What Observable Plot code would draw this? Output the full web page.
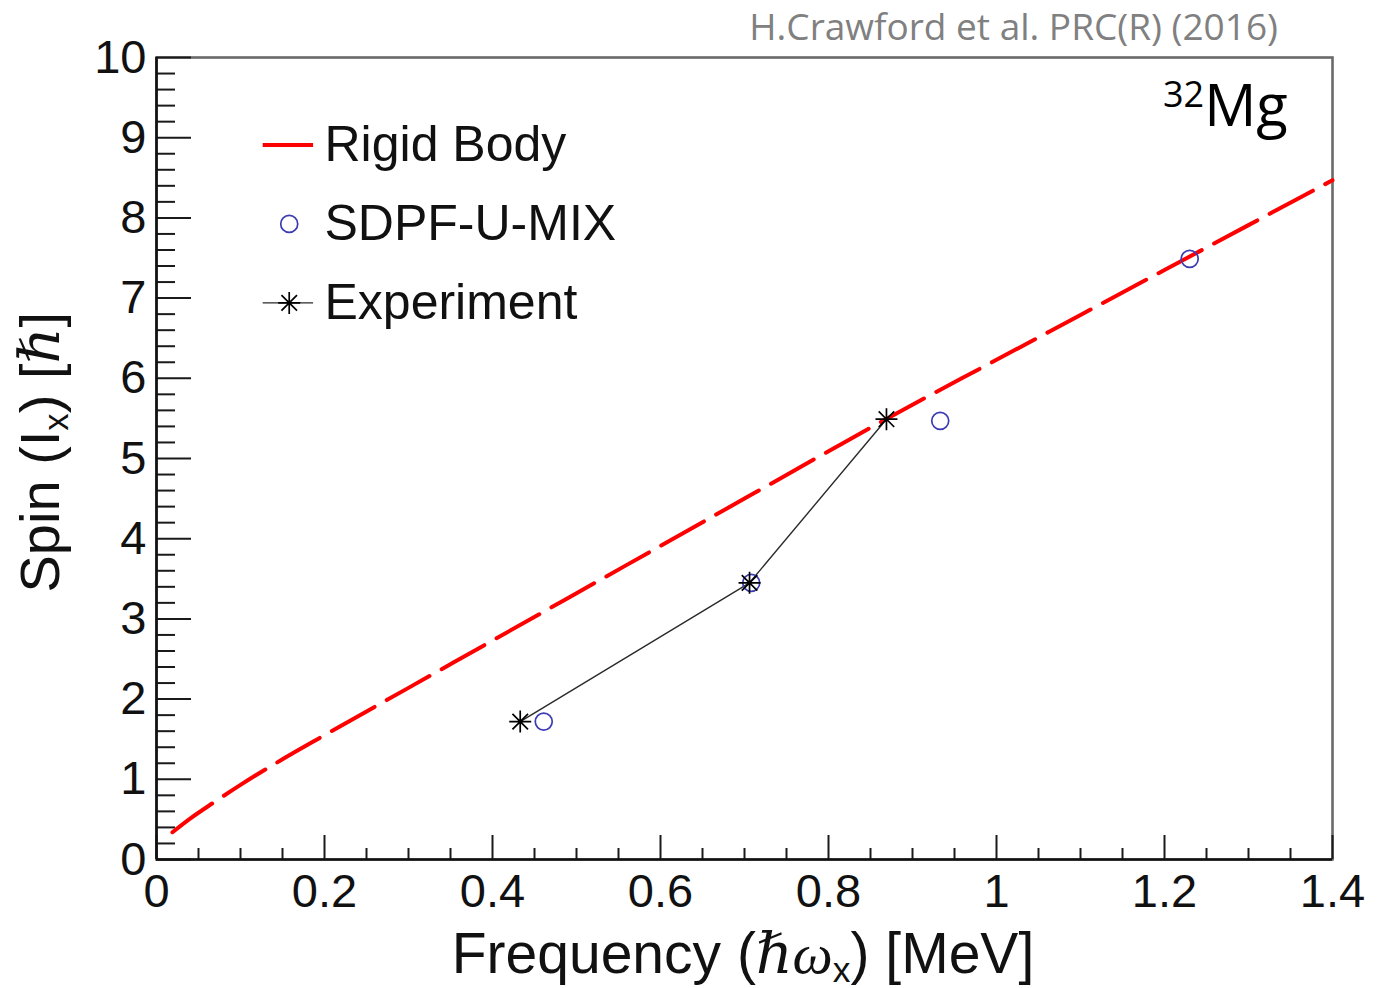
<!DOCTYPE html>
<html><head><meta charset="utf-8">
<script src="https://cdn.jsdelivr.net/npm/d3@7"></script>
<script src="https://cdn.jsdelivr.net/npm/@observablehq/plot@0.6"></script>
<style>
body{margin:0;background:#fff;}
#wrap{position:relative;width:1381px;height:988px;overflow:hidden;}
.ov{position:absolute;white-space:nowrap;line-height:1.15;}
#cite{font-family:'Open Sans',sans-serif;font-size:37px;color:#808080;right:103px;top:0px;line-height:normal;}
#nuc{font-family:'Open Sans',sans-serif;font-size:58px;color:#000;left:1163px;top:71px;}
#nuc .sup{font-size:36px;position:relative;top:-19px;}
#xt{font-family:'Liberation Sans',Arial,sans-serif;font-size:57px;color:#111;left:443px;width:600px;text-align:center;top:921px;}
#yt{font-family:'Liberation Sans',Arial,sans-serif;font-size:56px;color:#111;left:-160px;width:400px;text-align:center;top:420px;transform:rotate(-90deg);transform-origin:center;}
.sb{font-size:0.62em;position:relative;top:0.26em;}
.g{font-family:'Liberation Serif','DejaVu Serif',serif;font-style:italic;}
</style></head><body>
<div id="wrap">
<div id="plot"></div>
<div class="ov" id="cite">H.Crawford et al. PRC(R) (2016)</div>
<div class="ov" id="nuc"><span class="sup">32</span>Mg</div>
<div class="ov" id="xt">Frequency (<span class="g">ℏω</span><span class="sb">x</span>) [MeV]</div>
<div class="ov" id="yt">Spin (I<span class="sb">x</span>) [<span class="g">ℏ</span>]</div>
</div>
<script>
// ---- data ----
const rigidFreq = [0.019,0.04,0.068,0.1,0.15,0.2,0.3,0.4,0.5,0.6,0.7,0.8,0.87,1.0,1.1,1.2,1.3,1.4];
const rigidSpin = [0.34,0.51,0.71,0.93,1.25,1.55,2.14,2.73,3.32,3.91,4.50,5.09,5.50,6.23,6.79,7.35,7.91,8.47];
const sdpfFreq = [0.461,0.708,0.933,1.230];
const sdpfSpin = [1.72,3.45,5.47,7.49];
const expFreq = [0.433,0.706,0.869];
const expSpin = [1.72,3.45,5.49];
const xTicks = [0,0.2,0.4,0.6,0.8,1,1.2,1.4];
const yTicks = [0,1,2,3,4,5,6,7,8,9,10];
const legendLabels = ["Rigid Body","SDPF-U-MIX","Experiment"];

// ---- layout ----
const W=1381,H=988,mL=156,mR=49,mT=57,mB=129;
const fw=W-mL-mR, fh=H-mT-mB;
const rigid = rigidFreq.map((x,i)=>({x, y: rigidSpin[i]}));
const sdpf = sdpfFreq.map((x,i)=>({x, y: sdpfSpin[i]}));
const expt = expFreq.map((x,i)=>({x, y: expSpin[i]}));
const xMinor = d3.range(0,1.4001,0.05).filter(v=>Math.abs(v*5-Math.round(v*5))>1e-6);
const yMinor = d3.range(0,10.001,0.2).filter(v=>Math.abs(v-Math.round(v))>1e-6);
const legend = legendLabels.map((label,i)=>({label, y: 8.91-0.985*i}));
const star8 = {draw(ctx,size){const r=Math.sqrt(size/Math.PI);for(let k=0;k<4;k++){const a=k*Math.PI/4,c=Math.cos(a)*r,s=Math.sin(a)*r;ctx.moveTo(-c,-s);ctx.lineTo(c,s);}}};
const tickCol="#1a1a1a";

const chart = Plot.plot({
  width:W, height:H, marginLeft:mL, marginRight:mR, marginTop:mT, marginBottom:mB,
  x:{domain:[0,1.4]}, y:{domain:[0,10]},
  style:{fontFamily:"'Liberation Sans', Arial, sans-serif", background:"white", color:"#111"},
  marks:[
    Plot.frame({stroke:"#6a6a6a", strokeWidth:2.6}),
    Plot.tickY(yMinor,{y:d=>d, insetRight:fw-19, stroke:tickCol, strokeWidth:2}),
    Plot.tickY(yTicks,{y:d=>d, insetRight:fw-35, stroke:tickCol, strokeWidth:2}),
    Plot.tickX(xMinor,{x:d=>d, insetTop:fh-11, stroke:tickCol, strokeWidth:2}),
    Plot.tickX(xTicks,{x:d=>d, insetTop:fh-24, stroke:tickCol, strokeWidth:2}),
    Plot.ruleX([0],{stroke:"#111", strokeWidth:2.6}),
    Plot.ruleY([0],{stroke:"#111", strokeWidth:2.6}),
    Plot.axisX({ticks:xTicks, tickSize:0, tickPadding:14, fontSize:47, label:null, tickFormat:d=>String(d)}),
    Plot.axisY({ticks:yTicks, tickSize:0, tickPadding:10, fontSize:47, label:null}),
    Plot.line(rigid,{x:"x", y:"y", stroke:"red", strokeWidth:4, strokeDasharray:"49,14", curve:"monotone-x"}),
    Plot.line(expt,{x:"x", y:"y", stroke:"#2a2a2a", strokeWidth:1.4}),
    Plot.dot(sdpf,{x:"x", y:"y", symbol:"circle", r:8.5, stroke:"#3b3bb3", strokeWidth:1.7, fill:"none"}),
    Plot.dot(expt,{x:"x", y:"y", symbol:star8, r:11, stroke:"#000", strokeWidth:1.7}),
    // legend
    Plot.ruleY([legend[0]],{y:"y", x1:()=>0.127, x2:()=>0.187, stroke:"red", strokeWidth:4}),
    Plot.dot([legend[1]],{x:()=>0.158, y:"y", symbol:"circle", r:8.5, stroke:"#3b3bb3", strokeWidth:1.7, fill:"none"}),
    Plot.ruleY([legend[2]],{y:"y", x1:()=>0.127, x2:()=>0.187, stroke:"#2a2a2a", strokeWidth:1.4}),
    Plot.dot([legend[2]],{x:()=>0.158, y:"y", symbol:star8, r:11, stroke:"#000", strokeWidth:1.7}),
    Plot.text(legend,{x:()=>0.2, y:"y", text:"label", textAnchor:"start", fontSize:50, fill:"#111"})
  ]
});
document.getElementById("plot").appendChild(chart);
</script>
</body></html>
